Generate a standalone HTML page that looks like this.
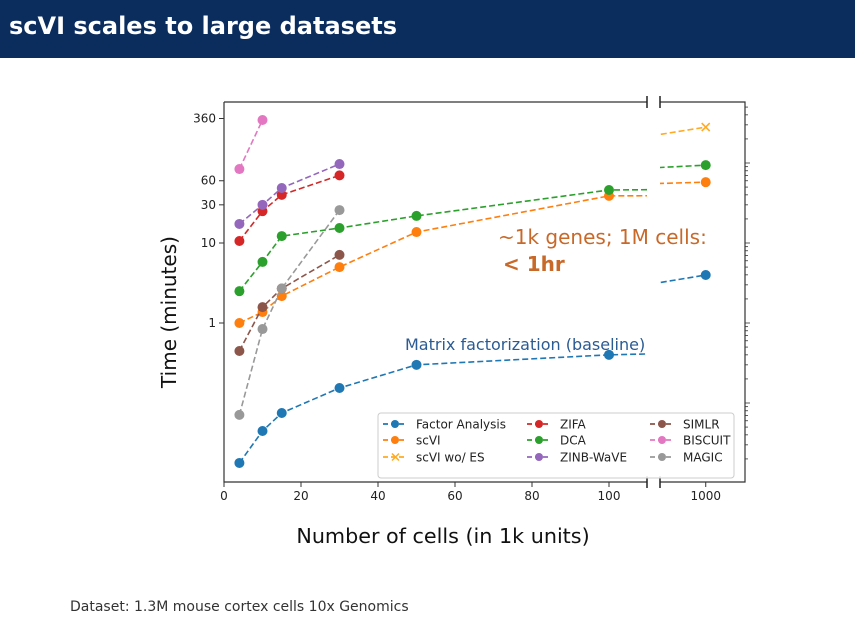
<!DOCTYPE html>
<html><head><meta charset="utf-8">
<style>
html,body{margin:0;padding:0;background:#fff;}
body{width:855px;height:636px;position:relative;overflow:hidden;font-family:"DejaVu Sans","Liberation Sans",sans-serif;}
#header{position:absolute;left:0;top:0;width:855px;height:58px;background:#0b2d5e;}
#header span{position:absolute;left:9px;top:12px;color:#fff;font-size:24px;font-weight:bold;font-family:"DejaVu Sans","Liberation Sans",sans-serif;}
#foot{position:absolute;left:70px;top:599px;font-size:14px;color:#333;}
</style></head><body>
<div id="header"><span>scVI scales to large datasets</span></div>
<svg id="chart" width="855" height="636" style="position:absolute;left:0;top:0">
<defs>
<clipPath id="clipL"><rect x="224" y="102" width="423" height="380"/></clipPath>
<clipPath id="clipR"><rect x="660" y="102" width="85" height="380"/></clipPath>
</defs>
<g id="axes"></g>
<g id="series"></g>
<g id="legend"></g>
<text x="176" y="312" font-size="20" fill="#111" text-anchor="middle" transform="rotate(-90 176 312)">Time (minutes)</text>
<text x="443" y="543" font-size="20.7" fill="#111" text-anchor="middle">Number of cells (in 1k units)</text>
<text x="498" y="244" font-size="20" fill="#c8692a">~1k genes; 1M cells:</text>
<text x="503" y="271" font-size="20" font-weight="bold" fill="#c8692a">&lt; 1hr</text>
<text x="405" y="350" font-size="16" fill="#2b5b93">Matrix factorization (baseline)</text>
</svg>
<div id="foot">Dataset: 1.3M mouse cortex cells 10x Genomics</div>
<script>
const seriesNames = ["Factor Analysis","scVI","scVI wo/ ES","ZIFA","DCA","ZINB-WaVE","SIMLR","BISCUIT","MAGIC"];
const seriesColors = ["#1f77b4","#ff7f0e","#ffaa22","#d62728","#2ca02c","#9467bd","#8c564b","#e377c2","#999999"];
const xFA = [4,10,15,30,50,100,1000];
const yFA = [0.0178,0.0447,0.075,0.154,0.30,0.40,3.98];
const xSCVI = [4,10,15,30,50,100,1000];
const ySCVI = [1.0,1.37,2.17,5.0,13.7,38.8,57.6];
const xSCVIES = [1000];
const ySCVIES = [281];
const xZIFA = [4,10,15,30];
const yZIFA = [10.6,25,40,70];
const xDCA = [4,10,15,30,50,100,1000];
const yDCA = [2.5,5.8,12.2,15.4,21.8,46,94];
const xZINB = [4,10,15,30];
const yZINB = [17.3,30,48.7,97];
const xSIMLR = [4,10,15,30];
const ySIMLR = [0.447,1.58,2.7,7.1];
const xBISCUIT = [4,10];
const yBISCUIT = [84,345];
const xMAGIC = [4,10,15,30];
const yMAGIC = [0.071,0.84,2.7,25.8];
const xTicksLeft = [0,20,40,60,80,100];
const xTicksRight = [1000];
const yTicks = [1,10,30,60,360];
const yTickLabels = ["1","10","30","60","360"];

const NS="http://www.w3.org/2000/svg";
function mk(tag,attrs,parent){const e=document.createElementNS(NS,tag);for(const k in attrs)e.setAttribute(k,attrs[k]);if(parent)parent.appendChild(e);return e;}
function xL(v){return 224+v*3.85;}
function xR(v){return 660+(v-915)*(85/158);}
function yS(v){return 323-Math.log10(v)*80;}

const axes=document.getElementById('axes');
const spineColor="#333";
const sp=mk('path',{d:"M224,102 V482 H647 M224,102 H647 M660,102 H745 V482 H660",fill:"none",stroke:spineColor,"stroke-width":1.2},axes);


[[647,102],[660,102],[647,482],[660,482]].forEach(p=>{
 const b=mk('line',{x1:p[0],y1:p[1]-6,x2:p[0],y2:p[1]+6,stroke:"#222","stroke-width":1.5},axes);
 
 
});
xTicksLeft.forEach(t=>{
 const x=xL(t);
 mk('line',{x1:x,y1:482,x2:x,y2:487,stroke:spineColor},axes);
 const tx=mk('text',{x:x,y:500,"font-size":12,"text-anchor":"middle",fill:"#222"},axes);
 tx.textContent=t;
 
 
});
xTicksRight.forEach(t=>{
 const x=xR(t);
 mk('line',{x1:x,y1:482,x2:x,y2:487,stroke:spineColor},axes);
 const tx=mk('text',{x:x,y:500,"font-size":12,"text-anchor":"middle",fill:"#222"},axes);
 tx.textContent=t;
 
 
});
yTicks.forEach((t,i)=>{
 const y=yS(t);
 mk('line',{x1:219,y1:y,x2:224,y2:y,stroke:spineColor},axes);
 const tx=mk('text',{x:216,y:y+4,"font-size":12,"text-anchor":"end",fill:"#222"},axes);
 tx.textContent=yTickLabels[i];
 
 
});
for(let d=-2;d<=2;d++){for(let m=1;m<10;m++){const v=m*Math.pow(10,d);const y=yS(v);if(y<102||y>482)continue;
 mk('line',{x1:745,y1:y,x2:m==1?750:748,y2:y,stroke:spineColor,"stroke-width":0.8},axes);}}

const seriesX=[xFA,xSCVI,xSCVIES,xZIFA,xDCA,xZINB,xSIMLR,xBISCUIT,xMAGIC];
const seriesY=[yFA,ySCVI,ySCVIES,yZIFA,yDCA,yZINB,ySIMLR,yBISCUIT,yMAGIC];
const sg=document.getElementById('series');
function pts(xs,ys,fx){return xs.map((x,i)=>fx(x)+","+yS(ys[i])).join(" ");}
seriesNames.forEach((name,si)=>{
 const col=seriesColors[si], xs=seriesX[si], ys=seriesY[si];
 const g=mk('g',{},sg);
 
 
 let extraR=null;
 if(si===2){ extraR=[[900],[ySCVIES[0]*0.78]]; }
 [['clipL',xL],['clipR',xR]].forEach(([cp,fx])=>{
   let xx=xs, yy=ys;
   if(cp==='clipR'&&extraR){xx=extraR[0].concat(xs);yy=extraR[1].concat(ys);}
   if(xx.length>1){
     const ln=mk('polyline',{points:pts(xx,yy,fx),fill:"none",stroke:col,"stroke-width":1.6,"stroke-dasharray":"6,3","clip-path":"url(#"+cp+")"},g);
     
     
   }
 });
 xs.forEach((x,i)=>{
   const px= x>200?xR(x):xL(x), py=yS(ys[i]);
   if(si===2){
     const m=mk('path',{d:`M${px-4},${py-4} L${px+4},${py+4} M${px-4},${py+4} L${px+4},${py-4}`,stroke:col,"stroke-width":1.6},g);
     
     
   } else {
     const c=mk('circle',{cx:px,cy:py,r:5,fill:col},g);
     
     
   }
 });
});
const lg=document.getElementById('legend');


mk('rect',{x:378,y:413,width:356,height:65,rx:3,fill:"#fff","fill-opacity":0.9,stroke:"#ccc"},lg);
const colX=[383,527,650], rowY=[424,440,457];
seriesNames.forEach((name,i)=>{
 const c=Math.floor(i/3), r=i%3, lx=colX[c], ly=rowY[r], col=seriesColors[i];
 const e=mk('g',{},lg);
 
 
 mk('line',{x1:lx,y1:ly,x2:lx+24,y2:ly,stroke:col,"stroke-width":1.8,"stroke-dasharray":"5,3"},e);
 if(i===2){mk('path',{d:`M${lx+9},${ly-3.5} l7,7 m-7,0 l7,-7`,stroke:col,"stroke-width":1.5},e);}
 else mk('circle',{cx:lx+12,cy:ly,r:4,fill:col},e);
 const t=mk('text',{x:lx+33,y:ly+4.5,"font-size":12,fill:"#222"},e);
 t.textContent=name;
});
</script>
</body></html>
